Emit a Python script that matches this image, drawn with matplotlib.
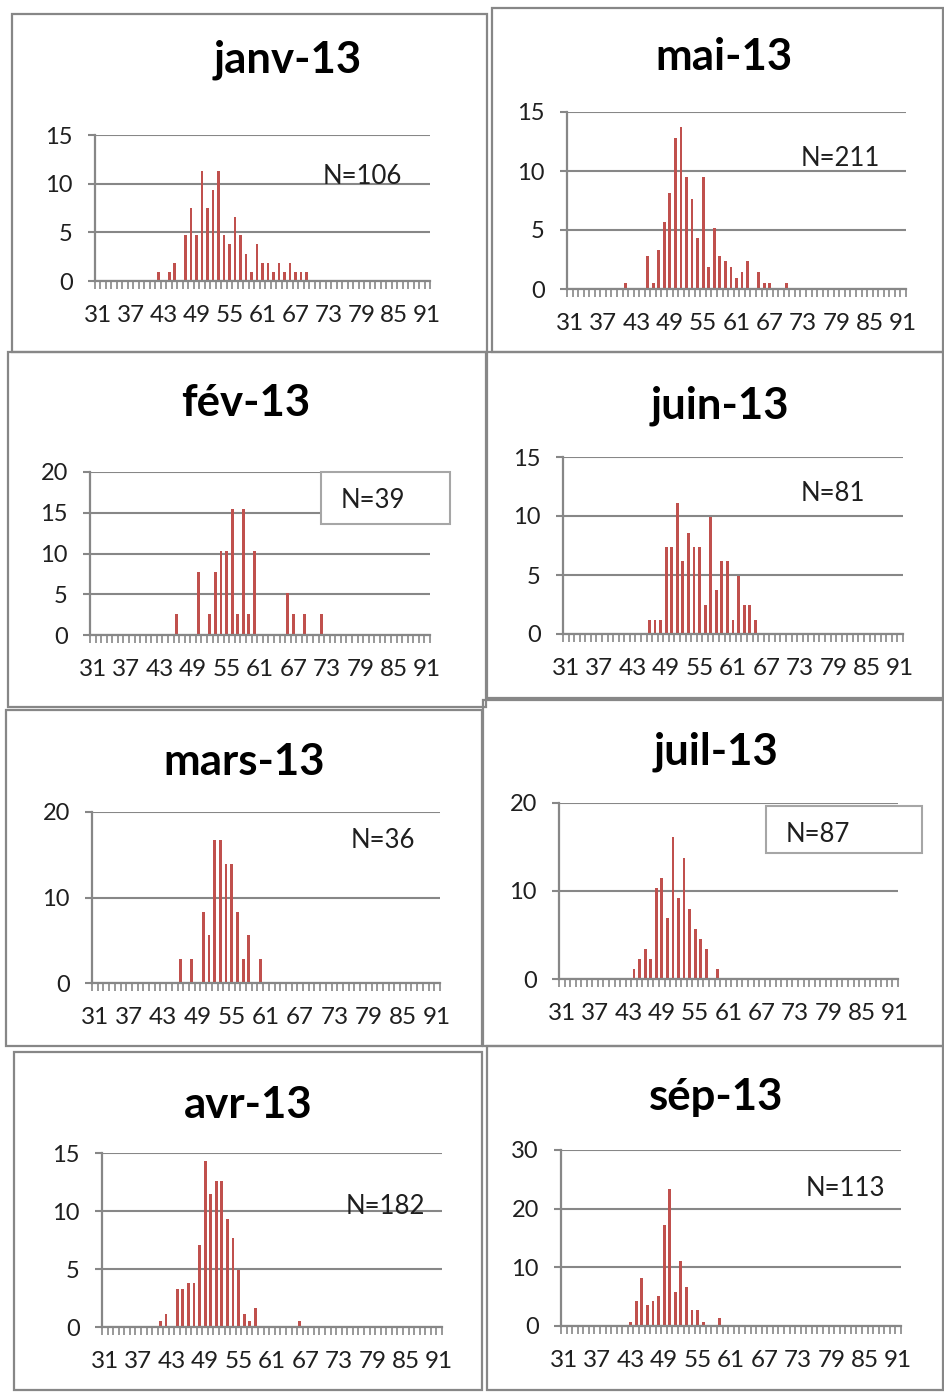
import numpy as np
import matplotlib.pyplot as plt
from matplotlib.patches import Rectangle

plt.rcParams['font.family'] = ['Lato', 'DejaVu Sans']

# Taille de l'image en pixels (dpi = 100)
W, H = 944, 1392

# Axe des x : ages 31 a 91, une etiquette tous les 6
first_age = 31
n_cats = 61
xtick_labels = [str(a) for a in range(31, 92, 6)]

# Donnees (% par age)
janv_ages = [42, 44, 45, 47, 48, 49, 50, 51, 52, 53, 54, 55, 56, 57, 58, 59, 60, 61, 62, 63, 64, 65, 66, 67, 68, 69]
janv_pct = [0.9, 0.9, 1.9, 4.7, 7.5, 4.7, 11.3, 7.5, 9.4, 11.3, 4.7, 3.8, 6.6, 4.7, 2.8, 0.9, 3.8, 1.9, 1.9, 0.9, 1.9, 0.9, 1.9, 0.9, 0.9, 0.9]

mai_ages = [41, 45, 46, 47, 48, 49, 50, 51, 52, 53, 54, 55, 56, 57, 58, 59, 60, 61, 62, 63, 65, 66, 67, 70]
mai_pct = [0.5, 2.8, 0.5, 3.3, 5.7, 8.1, 12.8, 13.7, 9.5, 7.6, 4.3, 9.5, 1.9, 5.2, 2.8, 2.4, 1.9, 0.9, 1.4, 2.4, 1.4, 0.5, 0.5, 0.5]

fev_ages = [46, 50, 52, 53, 54, 55, 56, 57, 58, 59, 60, 66, 67, 69, 72]
fev_pct = [2.6, 7.7, 2.6, 7.7, 10.3, 10.3, 15.4, 2.6, 15.4, 2.6, 10.3, 5.1, 2.6, 2.6, 2.6]

juin_ages = [46, 47, 48, 49, 50, 51, 52, 53, 54, 55, 56, 57, 58, 59, 60, 61, 62, 63, 64, 65]
juin_pct = [1.2, 1.2, 1.2, 7.4, 7.4, 11.1, 6.2, 8.6, 7.4, 7.4, 2.5, 9.9, 3.7, 6.2, 6.2, 1.2, 4.9, 2.5, 2.5, 1.2]

mars_ages = [46, 48, 50, 51, 52, 53, 54, 55, 56, 57, 58, 60]
mars_pct = [2.8, 2.8, 8.3, 5.6, 16.7, 16.7, 13.9, 13.9, 8.3, 2.8, 5.6, 2.8]

juil_ages = [44, 45, 46, 47, 48, 49, 50, 51, 52, 53, 54, 55, 56, 57, 59]
juil_pct = [1.1, 2.3, 3.4, 2.3, 10.3, 11.5, 6.9, 16.1, 9.2, 13.8, 8.0, 5.7, 4.6, 3.4, 1.1]

avr_ages = [41, 42, 44, 45, 46, 47, 48, 49, 50, 51, 52, 53, 54, 55, 56, 57, 58, 66]
avr_pct = [0.5, 1.1, 3.3, 3.3, 3.8, 3.8, 7.1, 14.3, 11.5, 12.6, 12.6, 9.3, 7.7, 4.9, 1.1, 0.5, 1.6, 0.5]

sep_ages = [43, 44, 45, 46, 47, 48, 49, 50, 51, 52, 53, 54, 55, 56, 59]
sep_pct = [0.6, 4.3, 8.1, 3.5, 4.3, 5.1, 17.2, 23.3, 5.8, 11.1, 6.6, 2.7, 2.7, 0.6, 1.3]

months = ['janv-13', 'mai-13', 'fév-13', 'juin-13', 'mars-13', 'juil-13', 'avr-13', 'sép-13']
n_labels = ['N=106', 'N=211', 'N=39', 'N=81', 'N=36', 'N=87', 'N=182', 'N=113']
series = [(janv_ages, janv_pct), (mai_ages, mai_pct), (fev_ages, fev_pct), (juin_ages, juin_pct),
          (mars_ages, mars_pct), (juil_ages, juil_pct), (avr_ages, avr_pct), (sep_ages, sep_pct)]
y_max = [15, 15, 20, 15, 20, 20, 15, 30]
y_step = [5, 5, 5, 5, 10, 10, 5, 10]

# Mise en page (pixels) : cadre, titre, zone de trace, etiquette N, cadre N eventuel
layout = [
    dict(box=(12, 14, 487, 352), title=(288, 60), plot=(95, 135, 430, 281), n=(362, 177), nbox=None),
    dict(box=(492, 8, 943, 352), title=(724, 57), plot=(567, 112, 906, 289), n=(840, 158), nbox=None),
    dict(box=(8, 352, 486, 707), title=(246, 403), plot=(90, 472, 430, 635), n=(373, 500), nbox=(321, 472, 450, 524)),
    dict(box=(487, 352, 943, 698), title=(720, 406), plot=(563, 457, 903, 634), n=(833, 493), nbox=None),
    dict(box=(6, 710, 482, 1046), title=(244, 762), plot=(92, 812, 440, 983), n=(383, 841), nbox=None),
    dict(box=(483, 700, 943, 1046), title=(716, 752), plot=(559, 803, 898, 979), n=(818, 834), nbox=(766, 806, 922, 853)),
    dict(box=(14, 1052, 482, 1390), title=(248, 1105), plot=(102, 1153, 442, 1327), n=(385, 1207), nbox=None),
    dict(box=(487, 1046, 943, 1390), title=(716, 1097), plot=(561, 1150, 901, 1326), n=(845, 1188), nbox=None),
]

RED = '#C0504D'
GRAY = '#878787'
TXT = '#1f1f1f'


def fx(x):
    return x / W


def fy(y):
    return 1 - y / H


fig = plt.figure(figsize=(W / 100, H / 100), dpi=100)
fig.patch.set_facecolor('white')

for i in range(8):
    lay = layout[i]
    ages, pct = series[i]

    # cadre du graphique
    x0, y0, x1, y1 = lay['box']
    fig.patches.append(Rectangle((fx(x0), fy(y1)), (x1 - x0) / W, (y1 - y0) / H,
                                 transform=fig.transFigure, fill=False, ec=GRAY, lw=1.6, zorder=1))
    fig.text(fx(lay['title'][0]), fy(lay['title'][1]), months[i], ha='center', va='center',
             fontsize=31.5, fontweight='bold', color='black')

    px0, py0, px1, py1 = lay['plot']
    ax = fig.add_axes([fx(px0), fy(py1), (px1 - px0) / W, (py1 - py0) / H])
    ax.bar(np.array(ages) - first_age, pct, width=0.5, color=RED, zorder=3)
    ax.set_xlim(-0.5, n_cats - 0.5)
    ax.set_ylim(0, y_max[i])
    ax.set_yticks(np.arange(0, y_max[i] + 1, y_step[i]))
    ax.set_xticks(np.arange(0, n_cats, 6))
    ax.set_xticklabels(xtick_labels)
    ax.set_xticks(np.arange(-0.5, n_cats, 1), minor=True)
    ax.grid(axis='y', color=GRAY, lw=1.5)
    ax.set_axisbelow(True)
    for s in ['top', 'right']:
        ax.spines[s].set_visible(False)
    for s in ['left', 'bottom']:
        ax.spines[s].set_color(GRAY)
        ax.spines[s].set_linewidth(1.6)
        ax.spines[s].set_zorder(4)
    ax.tick_params(axis='y', length=5, width=1.5, color=GRAY, pad=11, labelsize=17, labelcolor=TXT)
    ax.tick_params(axis='x', which='major', length=0, pad=17, labelsize=17.5, labelcolor=TXT)
    ax.tick_params(axis='x', which='minor', length=6, width=1.2, color=GRAY)

    # etiquette N (parfois dans un cadre)
    if lay['nbox'] is not None:
        bx0, by0, bx1, by1 = lay['nbox']
        fig.patches.append(Rectangle((fx(bx0), fy(by1)), (bx1 - bx0) / W, (by1 - by0) / H,
                                     transform=fig.transFigure, fc='white', ec='#A6A6A6', lw=1.5, zorder=2))
    fig.text(fx(lay['n'][0]), fy(lay['n'][1]), n_labels[i], ha='center', va='center',
             fontsize=18.5, color=TXT, zorder=5)

fig.savefig('out.png', dpi=100)
